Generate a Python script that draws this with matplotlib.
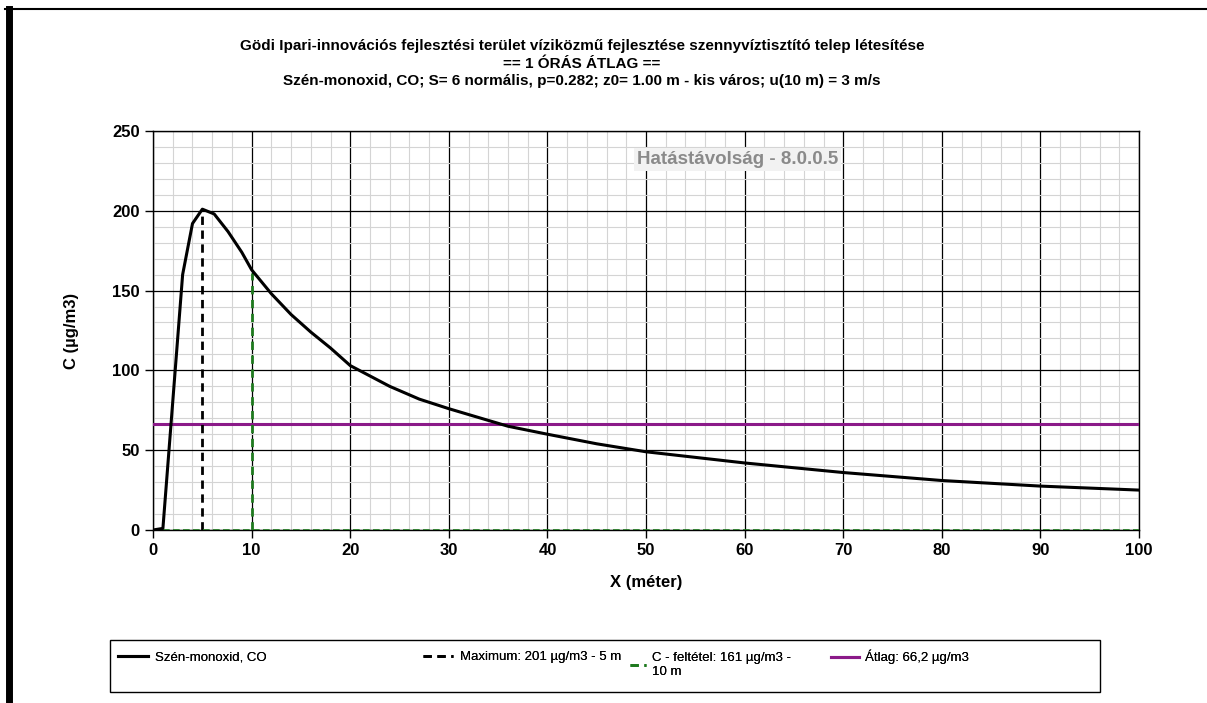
import matplotlib.pyplot as plt
from matplotlib.lines import Line2D
from matplotlib.patches import Rectangle
from matplotlib.ticker import MultipleLocator

# values (X in m, C in µg/m3)
dist = [0, 1, 3, 4, 5, 6.2, 7.6, 9, 10, 12, 14, 16, 18, 20, 24, 27, 30, 36, 40, 45, 50, 60, 70, 80, 90, 100]
conc = [0, 1, 160, 192, 201, 198, 187, 174, 163, 148, 135, 124, 114, 103, 90, 82, 76, 65, 60, 54, 49, 42, 36, 31, 27.5, 25]

max_x, max_c = 5, 201
limit_x, limit_c = 10, 161
avg_c = 66.2

titles = [
    "Gödi Ipari-innovációs fejlesztési terület víziközmű fejlesztése szennyvíztisztító telep létesítése",
    "== 1 ÓRÁS ÁTLAG ==",
    "Szén-monoxid, CO; S= 6 normális, p=0.282; z0= 1.00 m - kis város; u(10 m) = 3 m/s",
]
labels = [
    "Szén-monoxid, CO",
    "Maximum: 201 µg/m3 - 5 m",
    "C - feltétel: 161 µg/m3 -\n10 m",
    "Átlag: 66,2 µg/m3",
]

plt.rcParams['font.family'] = ['Liberation Sans', 'DejaVu Sans']

fig = plt.figure(figsize=(12.07, 7.03), dpi=100)
ax = fig.add_axes([0.1268, 0.2461, 0.8169, 0.5676])

l1, = ax.plot(dist, conc, color='black', lw=2.2, zorder=5)
l2, = ax.plot([max_x, max_x], [0, max_c], color='black', lw=2, ls=(0, (3, 2)), zorder=4)
l3, = ax.plot([limit_x, limit_x], [0, limit_c], color='#1f7a1f', lw=2, ls=(0, (3, 2)), zorder=4)
ax.plot([0, 100], [0, 0], color='#1f7a1f', lw=1.2, ls=(0, (4, 2)), zorder=4)
l4 = ax.axhline(avg_c, color='#8b1a89', lw=2.2, zorder=3)

ax.set_xlim(0, 100)
ax.set_ylim(0, 250)
ax.xaxis.set_major_locator(MultipleLocator(10))
ax.xaxis.set_minor_locator(MultipleLocator(2))
ax.yaxis.set_major_locator(MultipleLocator(50))
ax.yaxis.set_minor_locator(MultipleLocator(10))
ax.grid(which='minor', color='#d4d4d4', lw=0.8)
ax.grid(which='major', color='black', lw=0.9)
ax.set_axisbelow(True)
ax.tick_params(which='minor', length=0)
ax.tick_params(which='major', length=6, width=1, direction='out', labelsize=12)
for t in ax.get_xticklabels() + ax.get_yticklabels():
    t.set_fontweight('bold')
for s in ax.spines.values():
    s.set_color('black')
    s.set_linewidth(1)

ax.set_xlabel("X (méter)", fontsize=12, fontweight='bold', labelpad=12)
ax.set_ylabel("C (µg/m3)", fontsize=12, fontweight='bold', labelpad=24)

ax.text(59.3, 232, "Hatástávolság - 8.0.0.5", fontsize=13.5, fontweight='bold', color='#8a8a8a',
        ha='center', va='center', zorder=6,
        bbox=dict(facecolor='#f2f2f2', edgecolor='none', pad=2))

for i, line in enumerate(titles):
    fig.text(582 / 1207, 1 - (46 + 17.5 * i) / 703, line, ha='center', va='center',
             fontsize=11, fontweight='bold')

# legend: frame plus one entry per column, placed like the original
W, H = 1207, 703
fig.add_artist(Rectangle((110 / W, 1 - 692 / H), 990 / W, 52 / H, transform=fig.transFigure,
                         facecolor='none', edgecolor='black', lw=1))
entries = [(l1, labels[0], 118, 657, 2.3), (l2, labels[1], 423, 657, 2.3),
           (l3, labels[2], 630, 665, 1.2), (l4, labels[3], 831, 657, 2.1)]
for handle, text, px, py, hl in entries:
    leg = fig.legend([handle], [text], loc='center left', bbox_to_anchor=(px / W, 1 - py / H),
                     frameon=False, fontsize=9.5, handlelength=hl, handletextpad=0.5,
                     borderpad=0, borderaxespad=0)
    fig.add_artist(leg)

# page border
fig.add_artist(Line2D([9 / W, 9 / W], [0, 1 - 9 / H], color='black', lw=5))
fig.add_artist(Line2D([5 / W, 1], [1 - 9 / H, 1 - 9 / H], color='black', lw=1.5))

fig.savefig('out.png', dpi=100)
